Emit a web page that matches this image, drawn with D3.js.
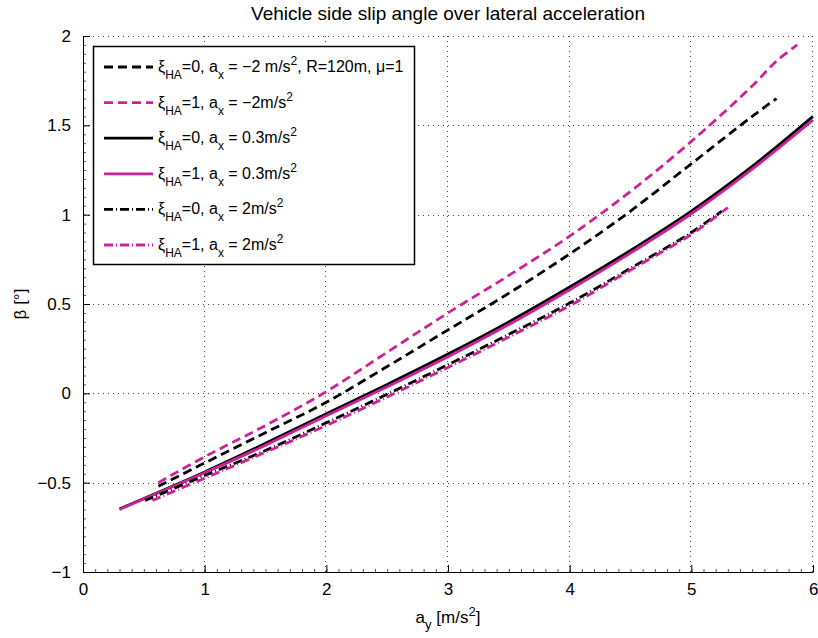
<!DOCTYPE html>
<html>
<head>
<meta charset="utf-8">
<script src="https://cdn.jsdelivr.net/npm/d3@7"></script>
<style>
body { margin: 0; background: #fff; }
text { font-family: "Liberation Sans", Arial, sans-serif; }
</style>
</head>
<body>
<div id="chart"></div>
<script>
// values
let xTicks = [0, 1, 2, 3, 4, 5, 6];
let yTicks = [-1, -0.5, 0, 0.5, 1, 1.5, 2];

let xDashed0 = [0.62, 1, 1.5, 2, 2.5, 3, 3.5, 4, 4.5, 5, 5.5, 5.7];
let yDashed0 = [-0.52, -0.39, -0.22, -0.05, 0.15, 0.355, 0.56, 0.78, 1.02, 1.285, 1.55, 1.65];

let xDashed1 = [0.62, 1, 1.5, 2, 2.5, 3, 3.5, 4, 4.5, 5, 5.5, 5.7, 5.87];
let yDashed1 = [-0.5, -0.355, -0.18, 0.01, 0.23, 0.45, 0.66, 0.88, 1.13, 1.41, 1.72, 1.86, 1.95];

let xSolid0 = [0.3, 1, 1.5, 2, 2.5, 3, 3.5, 4, 4.5, 5, 5.5, 6];
let ySolid0 = [-0.647, -0.44, -0.28, -0.115, 0.05, 0.22, 0.4, 0.595, 0.8, 1.02, 1.27, 1.55];

let xSolid1 = [0.3, 1, 1.5, 2, 2.5, 3, 3.5, 4, 4.5, 5, 5.5, 6];
let ySolid1 = [-0.65, -0.445, -0.29, -0.125, 0.037, 0.205, 0.385, 0.58, 0.785, 1.005, 1.255, 1.53];

let xDashDot0 = [0.51, 1, 1.5, 2, 2.5, 3, 3.5, 4, 4.5, 5, 5.25];
let yDashDot0 = [-0.6, -0.46, -0.32, -0.165, -0.005, 0.16, 0.33, 0.505, 0.7, 0.9, 1.02];

let xDashDot1 = [0.57, 1, 1.5, 2, 2.5, 3, 3.5, 4, 4.5, 5, 5.3];
let yDashDot1 = [-0.6, -0.475, -0.33, -0.18, -0.02, 0.145, 0.315, 0.49, 0.69, 0.89, 1.04];

let black = "#000";
let pink = "#cc2299";

let series = [
	{ xs: xDashed0, ys: yDashed0, color: black, dash: "9,5", label: [["ξ"], ["HA", "sub"], ["=0, a"], ["x", "sub"], [" = −2 m/s"], ["2", "sup"], [", R=120m, μ=1"]] },
	{ xs: xDashed1, ys: yDashed1, color: pink, dash: "9,5", label: [["ξ"], ["HA", "sub"], ["=1, a"], ["x", "sub"], [" = −2m/s"], ["2", "sup"]] },
	{ xs: xSolid0, ys: ySolid0, color: black, dash: null, label: [["ξ"], ["HA", "sub"], ["=0, a"], ["x", "sub"], [" = 0.3m/s"], ["2", "sup"]] },
	{ xs: xSolid1, ys: ySolid1, color: pink, dash: null, label: [["ξ"], ["HA", "sub"], ["=1, a"], ["x", "sub"], [" = 0.3m/s"], ["2", "sup"]] },
	{ xs: xDashDot0, ys: yDashDot0, color: black, dash: "9,3,1,3", label: [["ξ"], ["HA", "sub"], ["=0, a"], ["x", "sub"], [" = 2m/s"], ["2", "sup"]] },
	{ xs: xDashDot1, ys: yDashDot1, color: pink, dash: "9,3,1,3", label: [["ξ"], ["HA", "sub"], ["=1, a"], ["x", "sub"], [" = 2m/s"], ["2", "sup"]] }
];

let width = 818;
let height = 638;
let margin = { left: 83, right: 5, top: 36, bottom: 66 };

let svg = d3.select("#chart")
	.append("svg")
	.attr("width", width)
	.attr("height", height);

let x = d3.scaleLinear().domain([0, 6]).range([margin.left, width - margin.right]);
let y = d3.scaleLinear().domain([-1, 2]).range([height - margin.bottom, margin.top]);

// grid
let grid = svg.append("g")
	.attr("stroke", "#444")
	.attr("stroke-width", 1)
	.attr("stroke-dasharray", "1,4");

grid.selectAll(".gx")
	.data(xTicks.filter(d => d > 0))
	.enter()
	.append("line")
	.attr("x1", d => Math.round(x(d)) - 0.5)
	.attr("x2", d => Math.round(x(d)) - 0.5)
	.attr("y1", y(-1))
	.attr("y2", y(2));

grid.selectAll(".gy")
	.data(yTicks.filter(d => d > -1))
	.enter()
	.append("line")
	.attr("x1", x(0))
	.attr("x2", x(6))
	.attr("y1", d => Math.round(y(d)) + 0.5)
	.attr("y2", d => Math.round(y(d)) + 0.5);

// minor ticks first, major axes on top
let xMinor = svg.append("g")
	.attr("transform", "translate(0," + y(-1) + ")")
	.call(d3.axisBottom(x).tickValues(d3.range(0, 61).map(d => d / 10)).tickSize(-3).tickFormat(""));

let yMinor = svg.append("g")
	.attr("transform", "translate(" + x(0) + ",0)")
	.call(d3.axisLeft(y).tickValues(d3.range(-20, 41).map(d => d / 20)).tickSize(-3).tickFormat(""));

[xMinor, yMinor].forEach(function (a) {
	a.select(".domain").remove();
	a.selectAll("line").attr("stroke", "#555");
});

let fmt = d => String(d).replace("-", "−");

let xAxis = svg.append("g")
	.attr("transform", "translate(0," + y(-1) + ")")
	.call(d3.axisBottom(x).tickValues(xTicks).tickSizeInner(-7).tickSizeOuter(0).tickPadding(11).tickFormat(fmt));

let yAxis = svg.append("g")
	.attr("transform", "translate(" + x(0) + ",0)")
	.call(d3.axisLeft(y).tickValues(yTicks).tickSizeInner(-7).tickSizeOuter(0).tickPadding(12).tickFormat(fmt));

[xAxis, yAxis].forEach(function (a) {
	a.select(".domain").attr("stroke", "#000");
	a.selectAll("line").attr("stroke", "#000");
	a.selectAll("text").attr("font-size", 17).attr("fill", "#000");
});
xAxis.selectAll("text").filter(d => d === 6).attr("text-anchor", "end").attr("dx", 5);

// curves
let line = d3.line()
	.x(d => x(d[0]))
	.y(d => y(d[1]))
	.curve(d3.curveCatmullRom);

svg.append("g")
	.selectAll("path")
	.data(series)
	.enter()
	.append("path")
	.attr("d", d => line(d.xs.map((v, i) => [v, d.ys[i]])))
	.attr("fill", "none")
	.attr("stroke", d => d.color)
	.attr("stroke-width", 2.8)
	.attr("stroke-dasharray", d => d.dash);

// title and labels
svg.append("text")
	.attr("x", (x(0) + x(6)) / 2)
	.attr("y", 20)
	.attr("text-anchor", "middle")
	.attr("font-size", 19)
	.text("Vehicle side slip angle over lateral acceleration");

let xl = svg.append("text")
	.attr("x", (x(0) + x(6)) / 2)
	.attr("y", 623)
	.attr("text-anchor", "middle")
	.attr("font-size", 17);
xl.append("tspan").text("a");
xl.append("tspan").attr("dy", 6).attr("font-size", 13).text("y");
xl.append("tspan").attr("dy", -6).text(" [m/s");
xl.append("tspan").attr("dy", -7).attr("font-size", 13).text("2");
xl.append("tspan").attr("dy", 7).text("]");

svg.append("text")
	.attr("transform", "translate(26," + (y(-1) + y(2)) / 2 + ") rotate(-90)")
	.attr("text-anchor", "middle")
	.attr("font-size", 17)
	.text("β [°]");

// legend
let legend = svg.append("g");
legend.append("rect")
	.attr("x", 93.5)
	.attr("y", 46.5)
	.attr("width", 321)
	.attr("height", 218)
	.attr("fill", "#fff")
	.attr("stroke", "#000")
	.attr("stroke-width", 1.5);

let rows = legend.selectAll(".row")
	.data(series)
	.enter()
	.append("g")
	.attr("transform", (d, i) => "translate(0," + (67 + i * 35.6) + ")");

rows.append("line")
	.attr("x1", 104)
	.attr("x2", 153)
	.attr("stroke", d => d.color)
	.attr("stroke-width", 2.8)
	.attr("stroke-dasharray", d => d.dash);

rows.append("text")
	.attr("x", 158)
	.attr("y", 5)
	.attr("font-size", 16)
	.each(function (d) {
		let t = d3.select(this);
		let shift = 0;
		d.label.forEach(function (p) {
			let want = p[1] === "sub" ? 7 : p[1] === "sup" ? -7 : 0;
			t.append("tspan")
				.attr("dy", want - shift)
				.attr("font-size", p[1] ? 12 : 16)
				.text(p[0]);
			shift = want;
		});
	});
</script>
</body>
</html>
